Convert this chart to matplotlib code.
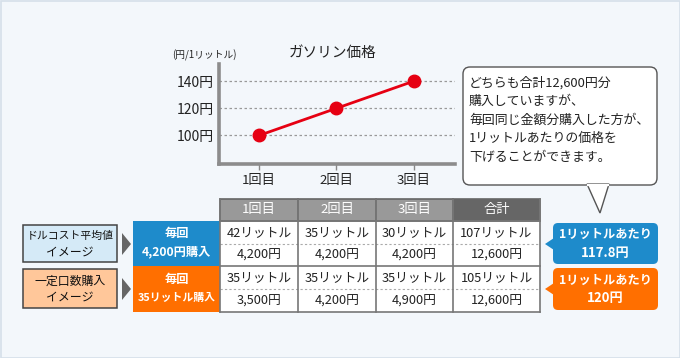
import matplotlib
matplotlib.use("Agg")
import matplotlib.pyplot as plt
from matplotlib.patches import Rectangle, FancyBboxPatch, Polygon

plt.rcParams['font.family'] = ['Noto Sans CJK JP', 'DejaVu Sans']

# ---- data ----
rounds = ['1回目', '2回目', '3回目']
price = [100, 120, 140]
yticks = [100, 120, 140]
header = ['1回目', '2回目', '3回目', '合計']
dca_liters = [42, 35, 30, 107]
dca_yen = [4200, 4200, 4200, 12600]
fixed_liters = [35, 35, 35, 105]
fixed_yen = [3500, 4200, 4900, 12600]
dca_avg = 117.8
fixed_avg = 120
title = 'ガソリン価格'
unit = '(円/1リットル)'
note_lines = ['どちらも合計12,600円分', '購入していますが、', '毎回同じ金額分購入した方が、',
              '1リットルあたりの価格を', '下げることができます。']

W, H = 680, 358
BG = '#F3F7FB'
BLUE = '#1E8BCB'
ORANGE = '#FF6F00'
TXT = '#222222'
fig = plt.figure(figsize=(W / 100, H / 100), dpi=100, facecolor=BG)

# overlay axes in pixel coordinates
ov = fig.add_axes([0, 0, 1, 1])
ov.set_xlim(0, W)
ov.set_ylim(H, 0)
ov.axis('off')
ov.add_patch(Rectangle((0.5, 0.5), W - 1, H - 1, fill=False, ec='#D6E0EA', lw=1.2))

# ---- line chart ----
L, R, T, B = 219, 455, 64, 164
ax = fig.add_axes([L / W, 1 - B / H, (R - L) / W, (B - T) / H])
ax.set_facecolor('none')
ax.set_xlim(0.484, 3.53)
ax.set_ylim(79, 152.6)
x = [1, 2, 3]
for yv in yticks:
    ax.axhline(yv, color='#999999', lw=0.9, ls=(0, (2, 2)), zorder=1)
ax.plot(x, price, color='#E60012', lw=2, marker='o', ms=9, zorder=3, clip_on=False)
for s in ['top', 'right']:
    ax.spines[s].set_visible(False)
for s in ['left', 'bottom']:
    ax.spines[s].set_color('#8C8C8C')
    ax.spines[s].set_linewidth(2.6)
ax.set_xticks(x)
ax.set_xticklabels(rounds, fontsize=9.5, color=TXT)
ax.set_yticks(yticks)
ax.set_yticklabels([f'{v}円' for v in yticks], fontsize=10, color=TXT)
ax.tick_params(axis='x', length=4, width=1, color='#888888', pad=3)
ax.tick_params(axis='y', length=0, pad=4)
ov.text(333, 53, title, fontsize=10.5, ha='center', va='center', color=TXT)
ov.text(204, 55, unit, fontsize=7, ha='center', va='center', color=TXT)

# ---- callout ----
ov.add_patch(FancyBboxPatch((463, 67), 194, 118, boxstyle='round,pad=0,rounding_size=7',
                            fc='white', ec='#555555', lw=1, zorder=2))
ov.add_patch(Polygon([(587, 184), (600, 213), (609, 184)], closed=True, fc='white',
                     ec='#555555', lw=1, zorder=2))
ov.plot([587.8, 608.2], [184.5, 184.5], color='white', lw=1.6, zorder=3)
for i, line in enumerate(note_lines):
    ov.text(469, 83 + i * 18.5, line, fontsize=9.3, ha='left', va='center',
            color=TXT, zorder=4)

# ---- table ----
cols = [220, 298, 376, 453, 540]
hy0, hy1 = 199, 221
ry = [221, 243.5, 266, 289, 312]
for i, h in enumerate(header):
    fc = '#666666' if i == 3 else '#999999'
    ov.add_patch(Rectangle((cols[i], hy0), cols[i + 1] - cols[i], hy1 - hy0, fc=fc,
                           ec='#666666', lw=1.2, zorder=2))
    ov.text((cols[i] + cols[i + 1]) / 2, (hy0 + hy1) / 2, h, fontsize=9.5, color='white',
            ha='center', va='center', zorder=4)
ov.add_patch(Rectangle((cols[0], ry[0]), cols[-1] - cols[0], ry[-1] - ry[0], fc='white',
                       ec='none', zorder=1))
rows = [[f'{v}リットル' for v in dca_liters], [f'{v:,}円' for v in dca_yen],
        [f'{v}リットル' for v in fixed_liters], [f'{v:,}円' for v in fixed_yen]]
for r, vals in enumerate(rows):
    for i, v in enumerate(vals):
        ov.text((cols[i] + cols[i + 1]) / 2, (ry[r] + ry[r + 1]) / 2 + 0.5, v, fontsize=9.2,
                color=TXT, ha='center', va='center', zorder=4)
for yy in [ry[1], ry[3]]:
    ov.plot([cols[0], cols[-1]], [yy, yy], color='#AAAAAA', lw=0.8, ls=(0, (2, 2)), zorder=3)
for yy in [ry[0], ry[2], ry[4]]:
    ov.plot([cols[0], cols[-1]], [yy, yy], color='#777777', lw=1.2, zorder=3)
for xx in cols:
    ov.plot([xx, xx], [hy0, ry[-1]], color='#777777', lw=1.2, zorder=3)

# colored row headers
ov.add_patch(Rectangle((133, ry[0]), 87, ry[2] - ry[0], fc=BLUE, ec='none', zorder=2))
ov.add_patch(Rectangle((133, ry[2]), 87, ry[4] - ry[2], fc=ORANGE, ec='none', zorder=2))
kw = dict(color='white', ha='center', va='center', zorder=4, fontweight='bold')
ov.text(176.5, 233, '毎回', fontsize=8.8, **kw)
ov.text(176.5, 252, f'{dca_yen[0]:,}円購入', fontsize=8.8, **kw)
ov.text(176.5, 279, '毎回', fontsize=8.8, **kw)
ov.text(176.5, 298, f'{fixed_liters[0]}リットル購入', fontsize=7.8, **kw)

# left labels
ov.add_patch(Rectangle((23, 225), 94, 37, fc='#D5EAF7', ec='#444444', lw=1.1, zorder=2))
ov.add_patch(Rectangle((23, 269), 94, 39, fc='#FFC79A', ec='#444444', lw=1.1, zorder=2))
lk = dict(color='#111111', ha='center', va='center', zorder=4)
ov.text(70, 236, 'ドルコスト平均値', fontsize=7.8, **lk)
ov.text(70, 252, 'イメージ', fontsize=8.6, **lk)
ov.text(70, 281, '一定口数購入', fontsize=8.6, **lk)
ov.text(70, 297, 'イメージ', fontsize=8.6, **lk)
for cy in [244, 289]:
    ov.add_patch(Polygon([(122, cy - 11), (131, cy), (122, cy + 11)], closed=True,
                         fc='#666666', ec='none', zorder=2))

# right badges
for (y0, y1, cy, fc, val) in [(223, 264, 244, BLUE, f'{dca_avg}円'),
                              (268, 310, 289, ORANGE, f'{fixed_avg}円')]:
    ov.add_patch(FancyBboxPatch((553, y0), 105, y1 - y0,
                                boxstyle='round,pad=0,rounding_size=5', fc=fc, ec='none',
                                zorder=2))
    ov.add_patch(Polygon([(554, cy - 6), (545, cy), (554, cy + 6)], closed=True, fc=fc,
                         ec='none', zorder=2))
    ov.text(605.5, (y0 + y1) / 2 - 9, '1リットルあたり', fontsize=8.8, **kw)
    ov.text(605.5, (y0 + y1) / 2 + 9, val, fontsize=9.5, **kw)

fig.savefig('out.png', dpi=100, facecolor=BG)
